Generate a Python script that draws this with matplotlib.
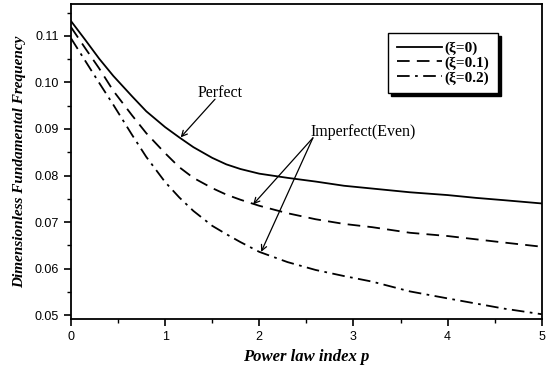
import matplotlib
matplotlib.use("Agg")
import matplotlib.pyplot as plt
from matplotlib.ticker import MultipleLocator, FormatStrFormatter

# power law index values
p = [0, 0.15, 0.3, 0.45, 0.65, 0.8, 1.0, 1.15, 1.3, 1.5, 1.65, 1.8,
     2.0, 2.3, 2.6, 2.9, 3.2, 3.6, 4.0, 4.3, 4.6, 5.0]

# dimensionless fundamental frequency for each porosity value
freq_xi0 = [0.1132, 0.1092, 0.1051, 0.1014, 0.0970, 0.0938, 0.0904, 0.0882,
            0.0861, 0.0838, 0.0824, 0.0814, 0.0804, 0.0795, 0.0787, 0.0778,
            0.0772, 0.0764, 0.0758, 0.0752, 0.0747, 0.0740]
freq_xi01 = [0.1119, 0.1074, 0.1030, 0.0982, 0.0929, 0.0891, 0.0848, 0.0818,
             0.0795, 0.0773, 0.0759, 0.0748, 0.0735, 0.0719, 0.0706, 0.0696,
             0.0689, 0.0677, 0.0670, 0.0663, 0.0656, 0.0647]
freq_xi02 = [0.1095, 0.1047, 0.0999, 0.0952, 0.0887, 0.0840, 0.0786, 0.0753,
             0.0724, 0.0692, 0.0674, 0.0657, 0.0636, 0.0614, 0.0597, 0.0584,
             0.0572, 0.0551, 0.0536, 0.0525, 0.0514, 0.0502]

labels = ["(ξ=0)", "(ξ=0.1)", "(ξ=0.2)"]

serif = "Liberation Serif"
sans = "Liberation Sans"

fig = plt.figure(figsize=(5.5, 3.66), dpi=100)
ax = fig.add_axes([0.129, 0.128, 0.856, 0.86])

ax.plot(p, freq_xi0, color="black", lw=1.3, label=labels[0])
ax.plot(p, freq_xi01, color="black", lw=1.3, dashes=(7, 4), label=labels[1])
ax.plot(p, freq_xi02, color="black", lw=1.3, dashes=(7, 3, 1.5, 3), label=labels[2])

ax.set_xlim(0, 5)
ax.set_ylim(0.04914, 0.11677)
ax.xaxis.set_major_locator(MultipleLocator(1))
ax.xaxis.set_minor_locator(MultipleLocator(0.5))
ax.yaxis.set_major_locator(MultipleLocator(0.01))
ax.yaxis.set_minor_locator(MultipleLocator(0.005))
ax.yaxis.set_major_formatter(FormatStrFormatter("%.2f"))
ax.tick_params(which="major", direction="out", length=5, width=1.2, labelsize=9)
ax.tick_params(which="minor", direction="out", length=3, width=1.0)
for lab in ax.get_xticklabels() + ax.get_yticklabels():
    lab.set_fontfamily(sans)
for s in ax.spines.values():
    s.set_linewidth(1.3)

ax.set_xlabel("Power law index p", fontfamily=serif, fontsize=12,
              fontweight="bold", fontstyle="italic", labelpad=4)
ax.set_ylabel("Dimensionless Fundamental Frequency", fontfamily=serif,
              fontsize=11, fontweight="bold", fontstyle="italic", labelpad=6)

# annotations
arrow = dict(arrowstyle="->", color="black", lw=0.9, shrinkA=0, shrinkB=0)
ax.text(1.58, 0.0977, "Perfect", fontfamily=serif, fontsize=11.5,
        ha="center", va="center")
ax.annotate("", xy=(1.165, 0.0882), xytext=(1.53, 0.0964), arrowprops=arrow)

ax.text(2.548, 0.0894, "Imperfect(Even)", fontfamily=serif, fontsize=11.5,
        ha="left", va="center")
for tip in [(1.935, 0.0738), (2.02, 0.0636)]:
    ax.annotate("", xy=tip, xytext=(2.57, 0.0881), arrowprops=arrow)

leg = ax.legend(loc="upper right", bbox_to_anchor=(0.907, 0.909),
                borderaxespad=0, fancybox=False, edgecolor="black",
                shadow={"color": "black", "alpha": 1},
                prop={"family": serif, "weight": "bold", "size": 11},
                labelspacing=0.05, borderpad=0.55, handlelength=2.95,
                handletextpad=0.2, framealpha=1)
leg.get_frame().set_linewidth(1.0)

fig.savefig("out.png", dpi=100)
